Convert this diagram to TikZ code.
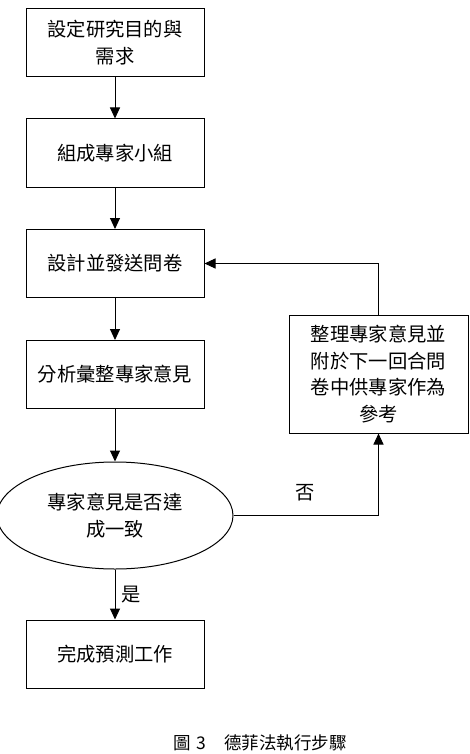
\documentclass[tikz,border=0pt]{standalone}
\usepackage{fontspec}
\newfontfamily\cjk{Noto Sans CJK TC}
\usetikzlibrary{arrows.meta,shapes.geometric}
\tikzset{
  stepbox/.style={draw, line width=1pt, minimum width=178pt, minimum height=68pt, inner sep=0pt, align=center, font=\cjk\fontsize{19.3}{26.5}\selectfont},
  conn/.style={line width=1pt},
  arr/.style={conn, -{Triangle[width=10pt,length=11pt]}},
  lbl/.style={font=\cjk\fontsize{19.3}{26.5}\selectfont, inner sep=0pt}
}
\begin{document}
\begin{tikzpicture}[x=1pt,y=-1pt]
\useasboundingbox (0,0) rectangle (469,754);
\node[stepbox] (b1) at (115,42.5) {設定研究目的與\\需求};
\node[stepbox] (b2) at (115,153) {組成專家小組};
\node[stepbox] (b3) at (115,263.5) {設計並發送問卷};
\node[stepbox] (b4) at (115,374.5) {分析彙整專家意見};
\node[stepbox, minimum width=179pt, minimum height=118pt] (r) at (378.5,374) {整理專家意見並\\附於下一回合問\\卷中供專家作為\\參考};
\node[draw, line width=1pt, ellipse, minimum width=236pt, minimum height=107pt, inner sep=0pt, align=center, font=\cjk\fontsize{19.3}{26.5}\selectfont] (e) at (115,515.5) {專家意見是否達\\成一致};
\node[stepbox] (b5) at (115,654) {完成預測工作};
\draw[arr] (b1) -- (b2);
\draw[arr] (b2) -- (b3);
\draw[arr] (b3) -- (b4);
\draw[arr] (b4) -- (e);
\draw[arr] (e) -- (b5) node[lbl, pos=0.5, right=6pt] (yes) {是};
\draw[arr] (e.east) -| (r.south);
\node[lbl] (no) at (305,493) {否};
\draw[arr] (r.north) |- (b3.east);
\node[font=\cjk\fontsize{17.5}{20}\selectfont, inner sep=0pt] (cap) at (260,743) {圖\hspace{0.35em}3\hspace{1em}德菲法執行步驟};
\end{tikzpicture}
\end{document}
